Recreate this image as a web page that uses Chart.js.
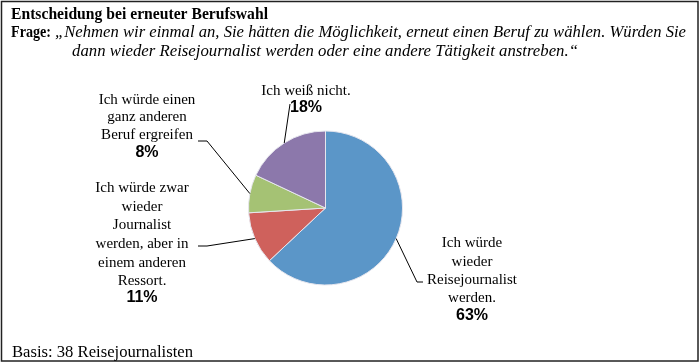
<!DOCTYPE html>
<html>
<head>
<meta charset="utf-8">
<script src="https://cdn.jsdelivr.net/npm/chart.js@4"></script>
<style>
  html, body { margin: 0; padding: 0; background: #fff; }
  #wrap { position: relative; width: 700px; height: 364px; }
</style>
</head>
<body>
<div id="wrap"><canvas id="myChart" width="700" height="364"></canvas></div>
<script>
const categories = [
  "Ich würde wieder Reisejournalist werden.",
  "Ich würde zwar wieder Journalist werden, aber in einem anderen Ressort.",
  "Ich würde einen ganz anderen Beruf ergreifen",
  "Ich weiß nicht."
];
const values = [63, 11, 8, 18];
const labelLines = [
  ["Ich würde", "wieder", "Reisejournalist", "werden."],
  ["Ich würde zwar", "wieder", "Journalist", "werden, aber in", "einem anderen", "Ressort."],
  ["Ich würde einen", "ganz anderen", "Beruf ergreifen"],
  ["Ich weiß nicht."]
];
const colors = ["#5b96c8", "#cf615c", "#a5c274", "#8c78ab"];

const titleText = "Entscheidung bei erneuter Berufswahl";
const frageLabel = "Frage:";
const frageLine1 = "„Nehmen wir einmal an, Sie hätten die Möglichkeit, erneut einen Beruf zu wählen. Würden Sie";
const frageLine2 = "dann wieder Reisejournalist werden oder eine andere Tätigkeit anstreben.“";
const basisText = "Basis: 38 Reisejournalisten";

// label layout: text centre x, line y's, percent y, leader elbow + end
const labelPos = [
  { x: 472, ys: [243, 262, 280, 298], py: 316, elbow: [417, 282], end: [423, 282] },
  { x: 142, ys: [188, 207, 225, 244, 263, 281], py: 298, elbow: [207, 246], end: [198, 246] },
  { x: 147, ys: [100, 117, 135], py: 153, elbow: [207, 141], end: [198, 141] },
  { x: 306, ys: [91], py: 108, elbow: [290, 104], end: [290, 104] }
];

const fitText = (ctx, text, x, y, width) => {
  const w = ctx.measureText(text).width;
  ctx.save();
  ctx.translate(x, y);
  ctx.scale(width / w, 1);
  ctx.fillText(text, 0, 0);
  ctx.restore();
};

const decor = {
  id: "decor",
  afterDraw(chart) {
    const ctx = chart.ctx;
    ctx.save();
    // frame
    ctx.strokeStyle = "#222";
    ctx.lineWidth = 1.5;
    ctx.strokeRect(1.5, 1.5, 696.5, 359.5);

    ctx.fillStyle = "#000";
    ctx.textBaseline = "alphabetic";
    ctx.textAlign = "left";
    ctx.font = "bold 17px 'Liberation Serif'";
    fitText(ctx, titleText, 11, 19, 257);
    fitText(ctx, frageLabel, 11, 37, 40);
    ctx.font = "italic 17px 'Liberation Serif'";
    fitText(ctx, frageLine1, 55, 37, 631);
    fitText(ctx, frageLine2, 72, 56, 506);
    ctx.font = "16px 'Liberation Serif'";
    fitText(ctx, basisText, 12, 357, 181);

    // leader lines and labels
    const arcs = chart.getDatasetMeta(0).data;
    ctx.strokeStyle = "#000";
    ctx.lineWidth = 1;
    arcs.forEach((arc, i) => {
      const p = arc.getProps(["x", "y", "startAngle", "endAngle", "outerRadius"], true);
      const mid = (p.startAngle + p.endAngle) / 2;
      const sx = p.x + Math.cos(mid) * p.outerRadius;
      const sy = p.y + Math.sin(mid) * p.outerRadius;
      const lp = labelPos[i];
      ctx.beginPath();
      ctx.moveTo(sx, sy);
      ctx.lineTo(lp.elbow[0], lp.elbow[1]);
      ctx.lineTo(lp.end[0], lp.end[1]);
      ctx.stroke();

      ctx.textAlign = "center";
      ctx.textBaseline = "middle";
      ctx.font = "15px 'Liberation Serif'";
      labelLines[i].forEach((line, j) => ctx.fillText(line, lp.x, lp.ys[j]));
      ctx.font = "bold 16px 'Liberation Sans'";
      ctx.fillText(values[i] + "%", lp.x, lp.py);
    });
    ctx.restore();
  }
};

const makeChart = () => new Chart(document.getElementById("myChart"), {
  type: "pie",
  data: {
    labels: categories,
    datasets: [
      {
        data: values,
        backgroundColor: colors,
        borderColor: "#e6e6ee",
        borderWidth: 1
      }
    ]
  },
  options: {
    responsive: false,
    animation: false,
    layout: { padding: { left: 248, right: 297, top: 130, bottom: 78 } },
    plugins: {
      legend: { display: false },
      tooltip: { enabled: false }
    }
  },
  plugins: [decor]
});

Promise.all([
  document.fonts.load("bold 17px 'Liberation Serif'"),
  document.fonts.load("italic 17px 'Liberation Serif'"),
  document.fonts.load("16px 'Liberation Serif'"),
  document.fonts.load("bold 16px 'Liberation Sans'")
]).then(makeChart, makeChart);
</script>
</body>
</html>
